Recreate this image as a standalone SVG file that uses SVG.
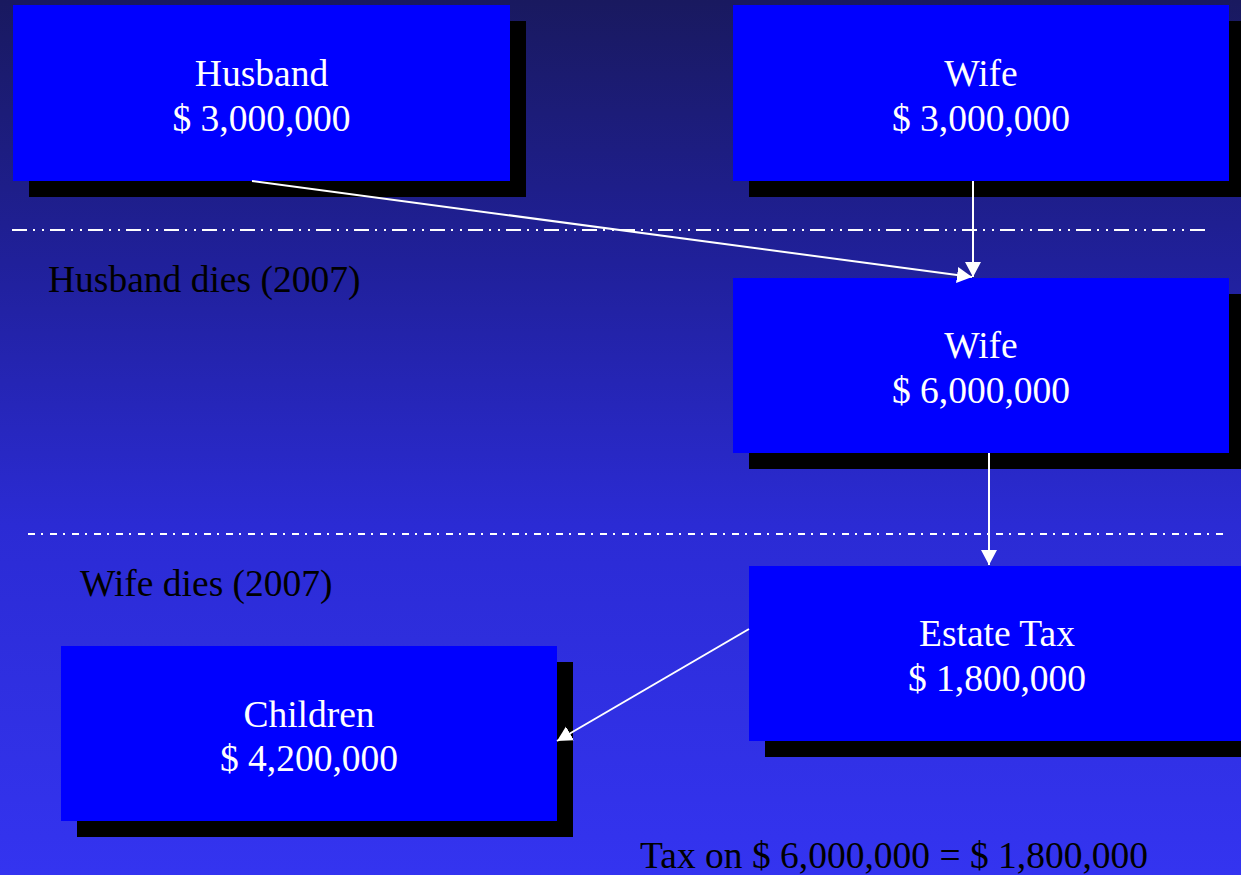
<svg xmlns="http://www.w3.org/2000/svg" width="1241" height="875" viewBox="0 0 1241 875">
<defs>
<linearGradient id="bg" x1="0" y1="0" x2="0" y2="1">
<stop offset="0" stop-color="#19195f"/>
<stop offset="0.3" stop-color="#20209a"/>
<stop offset="0.6" stop-color="#2b2bd4"/>
<stop offset="1" stop-color="#3434f0"/>
</linearGradient>
<marker id="arr" markerUnits="userSpaceOnUse" markerWidth="18" markerHeight="18" refX="15" refY="8" orient="auto">
<path d="M0,0 L15,8 L0,16 z" fill="#ffffff"/>
</marker>
<style>
.box{fill:#0000ff}
.shadow{fill:#000000}
.t{font-family:"Liberation Serif","Times New Roman",serif;font-size:37.5px;fill:#ffffff;text-anchor:middle}
.lbl{font-family:"Liberation Serif","Times New Roman",serif;font-size:37.5px;fill:#000000}
.conn{stroke:#ffffff;stroke-width:2;fill:none;marker-end:url(#arr)}
.sep1{stroke:#ffffff;stroke-width:2;stroke-dasharray:15 6 2 7 2 6}
.sep2{stroke:#ffffff;stroke-width:2;stroke-dasharray:7 6 2 7}
</style>
</defs>
<rect width="1241" height="875" fill="url(#bg)"/>
<g id="separators">
<line class="sep1" x1="12" y1="230" x2="1207" y2="230"/>
<line class="sep2" x1="28" y1="534" x2="1224" y2="534"/>
</g>
<g id="husband">
<rect class="shadow" x="29" y="21" width="497" height="176"/>
<rect class="box" x="13" y="5" width="497" height="176"/>
<text class="t" x="261.5" y="86">Husband</text>
<text class="t" x="261.5" y="131">$ 3,000,000</text>
</g>
<g id="wife-top">
<rect class="shadow" x="749" y="21" width="497" height="176"/>
<rect class="box" x="733" y="5" width="496" height="176"/>
<text class="t" x="981" y="86">Wife</text>
<text class="t" x="981" y="131">$ 3,000,000</text>
</g>
<g id="wife-mid">
<rect class="shadow" x="749" y="294" width="497" height="175"/>
<rect class="box" x="733" y="278" width="496" height="175"/>
<text class="t" x="981" y="358">Wife</text>
<text class="t" x="981" y="403">$ 6,000,000</text>
</g>
<g id="estate-tax">
<rect class="shadow" x="765" y="582" width="497" height="175"/>
<rect class="box" x="749" y="566" width="496" height="175"/>
<text class="t" x="997" y="646">Estate Tax</text>
<text class="t" x="997" y="691">$ 1,800,000</text>
</g>
<g id="children">
<rect class="shadow" x="77" y="662" width="496" height="175"/>
<rect class="box" x="61" y="646" width="496" height="175"/>
<text class="t" x="309" y="727">Children</text>
<text class="t" x="309" y="771">$ 4,200,000</text>
</g>
<g id="labels">
<text class="lbl" x="48" y="292">Husband dies (2007)</text>
<text class="lbl" x="80" y="596">Wife dies (2007)</text>
<text class="lbl" x="640" y="868">Tax on $ 6,000,000 = $ 1,800,000</text>
</g>
<g id="connectors">
<line class="conn" x1="252" y1="181" x2="972" y2="277"/>
<line class="conn" x1="973" y1="181" x2="973" y2="277"/>
<line class="conn" x1="989" y1="453" x2="989" y2="565"/>
<line class="conn" x1="749" y1="629" x2="557" y2="741"/>
</g>
</svg>
